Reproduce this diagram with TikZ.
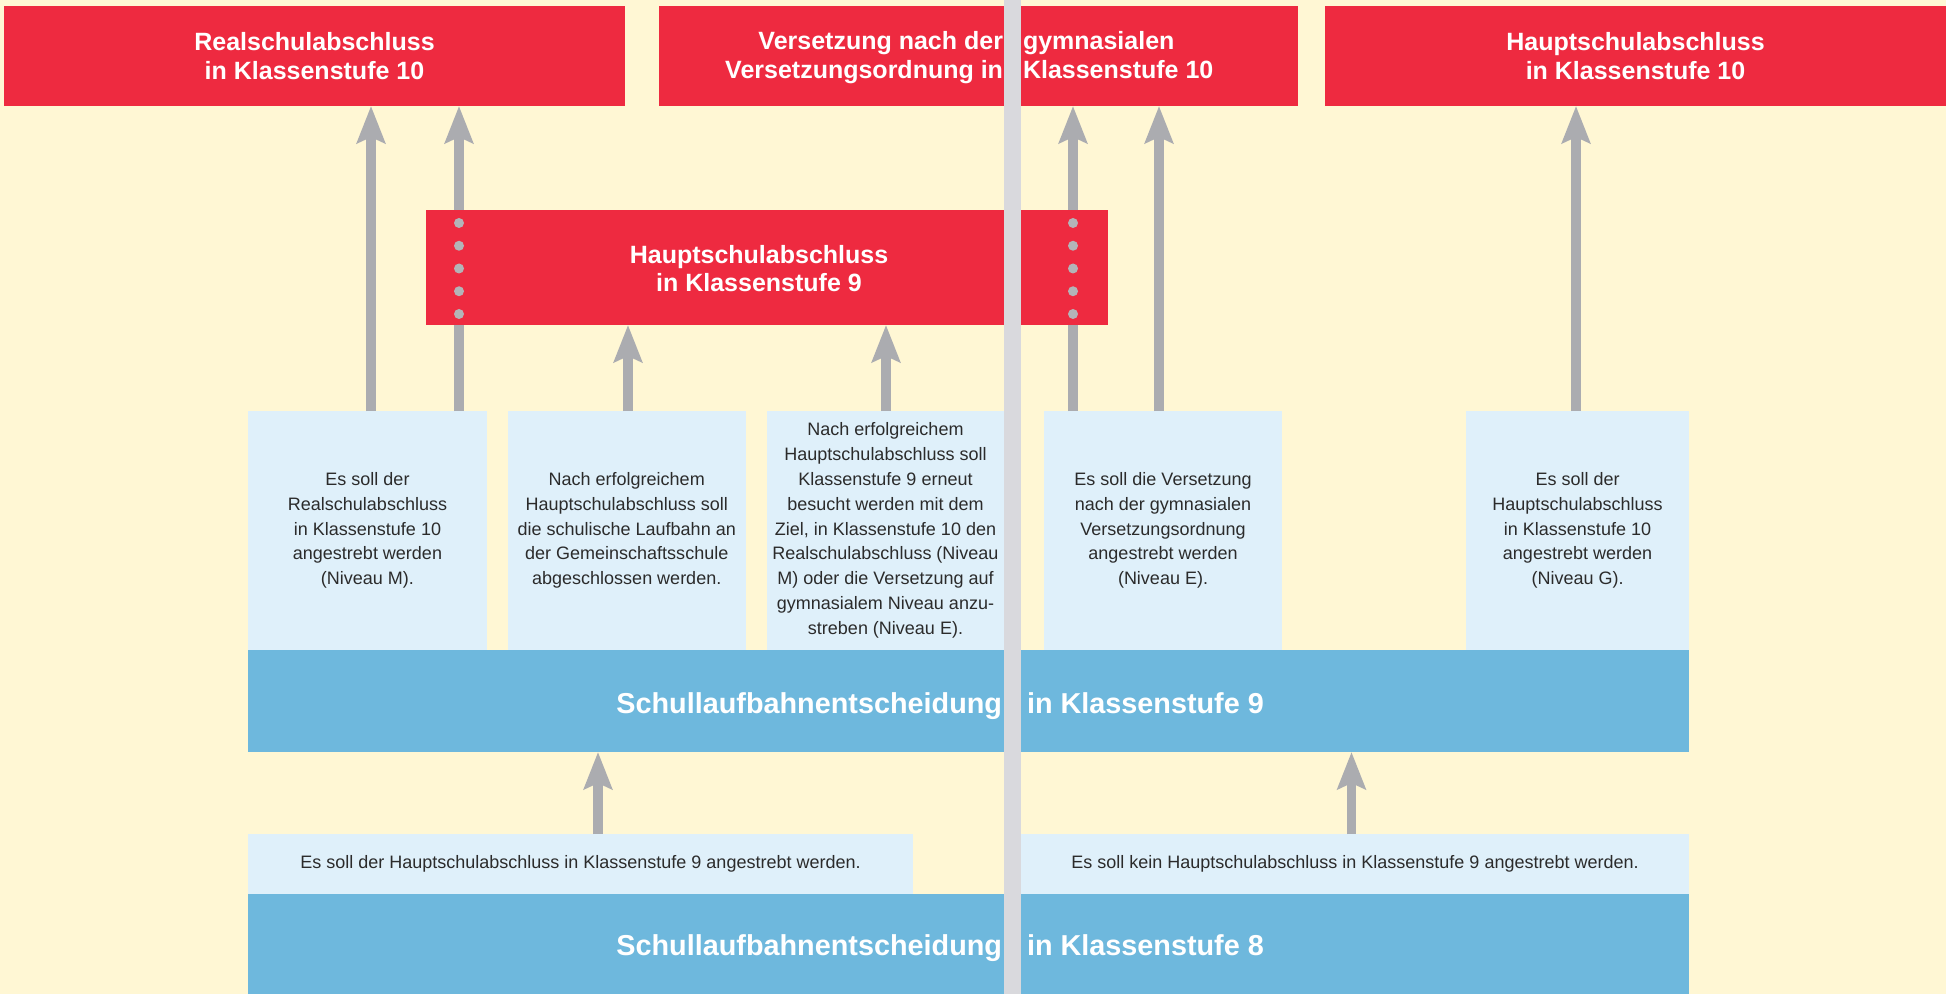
\documentclass[tikz,border=0pt]{standalone}
\usepackage{fontspec}
\setmainfont{Liberation Sans}
\usetikzlibrary{
    arrows.meta,
    calc,
    positioning
}
\definecolor{bgyellow}{HTML}{FFF7D4}
\definecolor{goalred}{HTML}{EE2A40}
\definecolor{hintblue}{HTML}{DFF0FA}
\definecolor{stageblue}{HTML}{6EB8DD}
\definecolor{arrowgrey}{HTML}{ABACB0}
\definecolor{guttergrey}{HTML}{D9D9DD}
\definecolor{textgrey}{HTML}{2B2B2B}
\tikzset{
  basic/.style = {
      rectangle,
      inner sep=0pt,
      outer sep=0pt,
      align=center
  },
  goal/.style = {
      basic,
      fill=goalred
  },
  title/.style = {
      basic,
      text=white,
      font=\bfseries\fontsize{12.5}{14.15}\selectfont
  },
  hint/.style = {
      basic,
      fill=hintblue,
      text=textgrey,
      font=\fontsize{9}{12.4}\selectfont
  },
  stage/.style = {
      basic,
      fill=stageblue,
      minimum width=720.5pt
  },
  banner/.style = {
      basic,
      text=white,
      font=\bfseries\fontsize{14.4}{17}\selectfont
  },
  shaft/.style = {
      draw=arrowgrey,
      line width=4.65pt
  },
  link/.style = {
      shaft,
      -{Stealth[length=18.5pt, width=14pt, inset=3pt]}
  },
  pathdot/.style = {
      fill=arrowgrey!90
  }
}
\begin{document}
\begin{tikzpicture}[x=0.5pt, y=-0.5pt]
    \fill[bgyellow] (0,0) rectangle (1946,994);
    % Abschluesse
    \node[goal, title, minimum width=310.5pt, minimum height=50pt] (rs10) at (314.5,56) {Realschulabschluss\\in Klassenstufe 10};
    \node[goal, minimum width=319.5pt, minimum height=50pt] (gym10) at (978.5,56) {};
    \node[goal, title, minimum width=310.5pt, minimum height=50pt] (hs10) at (1635.5,56) {Hauptschulabschluss\\in Klassenstufe 10};
    \node[goal, minimum width=341pt, minimum height=57.5pt] (hs9) at (767,267.5) {};
    \node[title] at ($(hs9)+(-8,1)$) {Hauptschulabschluss\\in Klassenstufe 9};
    \node[title, anchor=base east] at (1003,50) {Versetzung nach der};
    \node[title, anchor=base west] at (1023,50) {gymnasialen};
    \node[title, anchor=base east] at (1003,78.5) {Versetzungsordnung in};
    \node[title, anchor=base west] at (1023,78.5) {Klassenstufe 10};
    % Ziele in Klassenstufe 9
    \node[hint, minimum width=119.5pt, minimum height=119.5pt] (m1) at (367.5,530.5) {Es soll der\\Realschulabschluss\\in Klassenstufe 10\\angestrebt werden\\(Niveau M).};
    \node[hint, minimum width=119.25pt, minimum height=119.5pt] (m2) at (626.75,530.5) {Nach erfolgreichem\\Hauptschulabschluss soll\\die schulische Laufbahn an\\der Gemeinschaftsschule\\abgeschlossen werden.};
    \node[hint, minimum width=118.5pt, minimum height=119.5pt] (m3) at (885.5,530.5) {Nach erfolgreichem\\Hauptschulabschluss soll\\Klassenstufe 9 erneut\\besucht werden mit dem\\Ziel, in Klassenstufe 10 den\\Realschulabschluss (Niveau\\M) oder die Versetzung auf\\gymnasialem Niveau anzu-\\streben (Niveau E).};
    \node[hint, minimum width=119pt, minimum height=119.5pt] (m4) at (1163,530.5) {Es soll die Versetzung\\nach der gymnasialen\\Versetzungsordnung\\angestrebt werden\\(Niveau E).};
    \node[hint, minimum width=111.5pt, minimum height=119.5pt] (m5) at (1577.5,530.5) {Es soll der\\Hauptschulabschluss\\in Klassenstufe 10\\angestrebt werden\\(Niveau G).};
    % Entscheidungen
    \node[stage, minimum height=51pt] (stage9) at (968.5,701) {};
    \node[banner, anchor=base east] at (1002,713) {Schullaufbahnentscheidung};
    \node[banner, anchor=base west] at (1027,713) {in Klassenstufe 9};
    \node[hint, minimum width=332.5pt, minimum height=29.75pt] (k1) at (580.5,863.75) {Es soll der Hauptschulabschluss in Klassenstufe 9 angestrebt werden.};
    \node[hint, minimum width=334pt, minimum height=29.75pt] (k2) at (1355,863.75) {Es soll kein Hauptschulabschluss in Klassenstufe 9 angestrebt werden.};
    \node[stage, minimum height=50.25pt] (stage8) at (968.5,943.75) {};
    \node[banner, anchor=base east] at (1002,955.5) {Schullaufbahnentscheidung};
    \node[banner, anchor=base west] at (1027,955.5) {in Klassenstufe 8};
    % Pfeile
    \foreach \n/\x in {1/371, 2/459, 3/628, 4/886, 5/1073, 6/1159, 7/1576, 8/598, 9/1351.5}
        \coordinate (ax\n) at (\x,0);
    \draw[link] (m1.north -| ax1) -- (rs10.south -| ax1);
    \draw[shaft] (m1.north -| ax2) -- (hs9.south -| ax2);
    \draw[link] (hs9.north -| ax2) -- (rs10.south -| ax2);
    \draw[link] (m2.north -| ax3) -- (hs9.south -| ax3);
    \draw[link] (m3.north -| ax4) -- (hs9.south -| ax4);
    \draw[shaft] (m4.north -| ax5) -- (hs9.south -| ax5);
    \draw[link] (hs9.north -| ax5) -- (gym10.south -| ax5);
    \draw[link] (m4.north -| ax6) -- (gym10.south -| ax6);
    \draw[link] (m5.north -| ax7) -- (hs10.south -| ax7);
    \draw[link] (k1.north -| ax8) -- (stage9.south -| ax8);
    \draw[link] (k2.north -| ax9) -- (stage9.south -| ax9);
    \foreach \a in {ax2, ax5}
        \foreach \k in {0,...,4}
            \fill[pathdot] ($(hs9.north -| \a)+(0,13+22.75*\k)$) circle (2.5pt);
    % Falz
    \node[basic, fill=guttergrey, minimum width=8.5pt, minimum height=497pt] (gutter) at (1012.5,497) {};
\end{tikzpicture}
\end{document}
